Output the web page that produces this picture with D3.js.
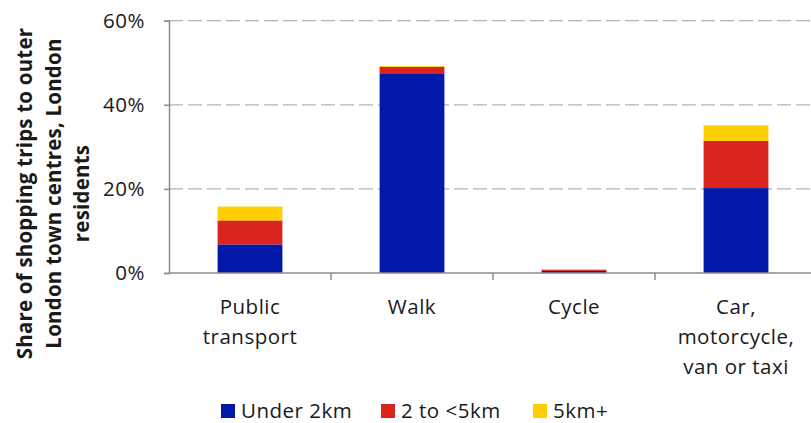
<!DOCTYPE html>
<html>
<head>
<meta charset="utf-8">
<script src="https://cdn.jsdelivr.net/npm/d3@7"></script>
<style>
  body { margin: 0; background: #fff; }
  svg { font-family: "Open Sans", sans-serif; }
</style>
</head>
<body>
<div id="chart"></div>
<script>
// Data
const modes = ['Public transport', 'Walk', 'Cycle', 'Car, motorcycle, van or taxi'];
const modeLines = [['Public', 'transport'], ['Walk'], ['Cycle'], ['Car,', 'motorcycle,', 'van or taxi']];
const seriesNames = ['Under 2km', '2 to <5km', '5km+'];
const under2km = [6.8, 47.5, 0.5, 20.2];
const from2to5km = [5.7, 1.5, 0.3, 11.2];
const over5km = [3.3, 0.2, 0.1, 3.7];
const yTicks = [0, 20, 40, 60];
const colours = ['#0019a8', '#dc241f', '#ffce00'];

const rows = modes.map((m, i) => ({
    mode: m,
    'Under 2km': under2km[i],
    '2 to <5km': from2to5km[i],
    '5km+': over5km[i]
}));

const svg = d3.select('#chart').append('svg')
    .attr('width', 811)
    .attr('height', 423);

const margin = {top: 20.7, left: 169};
const plotBottom = 273;
const textColour = '#1a1a1a';
const fontSize = 20.5;

const x = d3.scaleBand().domain(modes).range([margin.left, 817]).paddingInner(0.6).paddingOuter(0.3);
const y = d3.scaleLinear().domain([0, 60]).range([plotBottom, margin.top]);

// Gridlines
svg.append('g')
    .selectAll('line')
    .data(yTicks.filter(d => d > 0))
    .enter().append('line')
    .attr('x1', margin.left)
    .attr('x2', 811)
    .attr('y1', d => y(d))
    .attr('y2', d => y(d))
    .attr('stroke', '#b3b3b3')
    .attr('stroke-width', 1.3)
    .attr('stroke-dasharray', '14,5');

// Stacked bars
const stack = d3.stack().keys(seriesNames)(rows);
svg.append('g')
    .selectAll('g')
    .data(stack)
    .enter().append('g')
    .attr('fill', (d, i) => colours[i])
    .selectAll('rect')
    .data(d => d)
    .enter().append('rect')
    .attr('x', d => x(d.data.mode))
    .attr('width', x.bandwidth())
    .attr('y', d => y(d[1]))
    .attr('height', d => y(d[0]) - y(d[1]));

// Y axis
const yAxis = svg.append('g')
    .attr('transform', `translate(${margin.left},0)`)
    .call(d3.axisLeft(y).tickValues(yTicks).tickFormat(d => d + '%').tickSize(5).tickPadding(19));
yAxis.select('.domain').attr('stroke', '#8c8c8c').attr('stroke-width', 1.5);
yAxis.selectAll('.tick line').attr('stroke', '#8c8c8c').attr('stroke-width', 1.5);
yAxis.selectAll('.tick text')
    .attr('font-size', fontSize)
    .attr('letter-spacing', 0.5)
    .attr('fill', textColour)
    .attr('font-family', '"Open Sans", sans-serif');

// X axis
const xAxis = svg.append('g')
    .attr('transform', `translate(0,${plotBottom})`)
    .call(d3.axisBottom(x).tickSize(0).tickFormat(''));
xAxis.select('.domain').attr('d', `M${margin.left},0H811`).attr('stroke', '#8c8c8c').attr('stroke-width', 1.5);
// Tick marks between categories
svg.append('g')
    .selectAll('line')
    .data(modes.slice(1))
    .enter().append('line')
    .attr('x1', d => x(d) - x.step() * x.paddingInner() / 2)
    .attr('x2', d => x(d) - x.step() * x.paddingInner() / 2)
    .attr('y1', plotBottom)
    .attr('y2', plotBottom + 7)
    .attr('stroke', '#8c8c8c')
    .attr('stroke-width', 1.5);

// Category labels
svg.append('g')
    .selectAll('text')
    .data(modes)
    .enter().append('text')
    .attr('x', d => x(d) + x.bandwidth() / 2)
    .attr('y', 314)
    .attr('text-anchor', 'middle')
    .attr('font-size', fontSize)
    .attr('letter-spacing', 0.5)
    .attr('fill', textColour)
    .selectAll('tspan')
    .data((d, i) => modeLines[i])
    .enter().append('tspan')
    .attr('x', function() { return this.parentNode.getAttribute('x'); })
    .attr('dy', (d, i) => i === 0 ? 0 : 30)
    .text(d => d);

// Y axis title
const titleLines = ['Share of shopping trips to outer', 'London town centres, London', 'residents'];
svg.append('text')
    .attr('transform', 'translate(0,193.5) rotate(-90)')
    .attr('text-anchor', 'middle')
    .attr('font-size', 20.5)
    .attr('font-weight', 'bold')
    .attr('letter-spacing', 0.2)
    .attr('fill', textColour)
    .selectAll('tspan')
    .data(titleLines)
    .enter().append('tspan')
    .attr('x', 0)
    .attr('y', (d, i) => 32 + i * 28.5)
    .text(d => d);

// Legend
const legendX = [221, 381, 533];
const legend = svg.append('g')
    .selectAll('g')
    .data(seriesNames)
    .enter().append('g')
    .attr('transform', (d, i) => `translate(${legendX[i]},404)`);
legend.append('rect')
    .attr('width', 14)
    .attr('height', 14)
    .attr('fill', (d, i) => colours[i]);
legend.append('text')
    .attr('x', 20)
    .attr('y', 14)
    .attr('font-size', fontSize)
    .attr('letter-spacing', 0.5)
    .attr('fill', textColour)
    .text(d => d);
</script>
</body>
</html>
